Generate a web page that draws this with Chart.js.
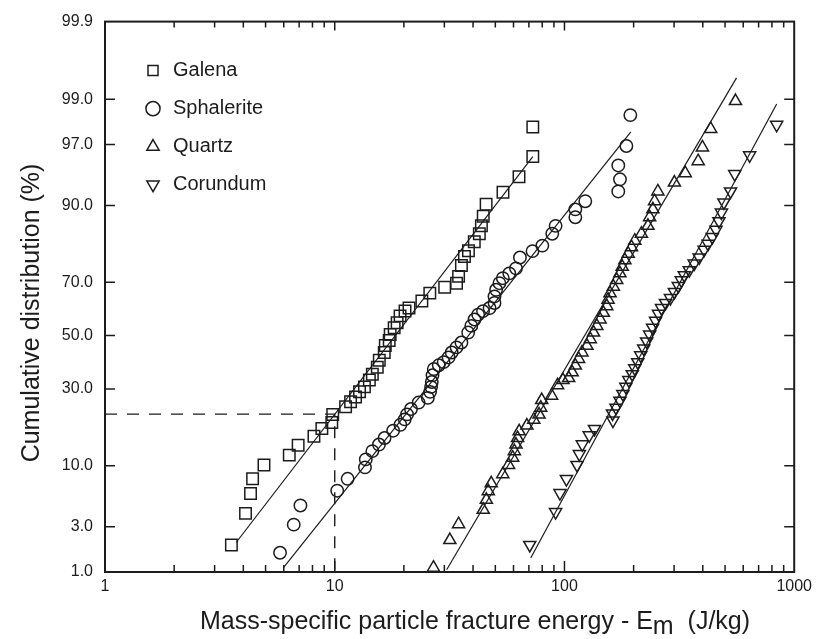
<!DOCTYPE html>
<html>
<head>
<meta charset="utf-8">
<script src="https://cdn.jsdelivr.net/npm/chart.js@4.4.1/dist/chart.umd.min.js"></script>
<style>
  html, body { margin: 0; padding: 0; background: #fff; }
</style>
</head>
<body>
<canvas id="myChart" width="817" height="639"></canvas>
<script>
// data: energy in J/kg, cumulative distribution in %
const galenaEnergy = [3.55, 4.09, 4.30, 4.39, 4.92, 6.34, 6.93, 8.12, 8.79, 9.71, 9.80, 11.15, 11.72, 12.32, 12.82, 13.47, 14.15, 14.58, 15.32, 15.63, 16.43, 16.6, 17.26, 17.43, 18.14, 18.69, 19.25, 20.23, 21.05, 23.95, 25.93, 30.1, 33.9, 34.6, 35.6, 36.7, 38.2, 40.5, 42.6, 43.5, 44.3, 45.6, 54.0, 63.4, 72.8, 72.8];
const galenaPct = [1.97, 4.01, 6.0, 7.94, 10.15, 11.98, 14.03, 16.08, 18.05, 19.6, 21.85, 24.2, 25.75, 27.3, 29.0, 30.7, 33.1, 35.2, 37.8, 40.4, 43.4, 46.1, 48.1, 50.4, 53.1, 55.0, 57.7, 59.6, 60.7, 63.3, 66.2, 68.3, 69.7, 72.0, 75.5, 78.2, 79.8, 82.2, 84.2, 86.0, 88.0, 90.2, 92.1, 94.1, 96.1, 98.0];

const sphaleriteEnergy = [5.78, 6.63, 7.09, 10.25, 11.38, 13.54, 13.65, 14.58, 15.58, 16.48, 17.96, 19.31, 20.17, 20.64, 21.47, 23.18, 25.42, 26.01, 26.27, 26.45, 26.64, 26.98, 28.36, 29.8, 31.3, 32.3, 33.9, 35.6, 38.1, 39.3, 40.6, 42.1, 44.2, 47.2, 49.6, 49.6, 50.4, 52.1, 53.9, 57.5, 61.5, 64.0, 72.6, 80.1, 88.5, 91.5, 111.5, 111.5, 123.2, 171.5, 174.4, 171.5, 186, 193.5];
const sphaleritePct = [1.63, 3.14, 4.73, 6.35, 7.94, 9.73, 11.16, 12.78, 14.19, 15.68, 17.47, 19.0, 20.5, 21.9, 23.5, 25.5, 27.0, 29.0, 30.7, 32.4, 34.8, 37.1, 38.5, 39.7, 41.5, 43.4, 45.4, 47.3, 51.2, 53.8, 56.3, 58.2, 59.5, 60.7, 62.6, 65.0, 67.4, 69.7, 71.4, 73.0, 74.6, 77.9, 79.7, 81.2, 84.2, 86.0, 87.8, 89.3, 90.7, 92.2, 93.8, 95.3, 96.9, 98.5];

const quartzEnergy = [26.9, 31.7, 34.6, 44.3, 45.7, 46.6, 48.0, 53.9, 57.1, 59.5, 60.5, 61.5, 62.5, 63.5, 68.6, 73.5, 77.5, 78.8, 79.6, 87.9, 93.3, 98.5, 104.3, 108.0, 111.5, 115.2, 119.2, 125.3, 129.5, 133.8, 138.3, 142.9, 147.7, 152.8, 154.8, 157.9, 163.2, 168.8, 174.4, 178.4, 183.2, 189.3, 195.8, 202.3, 216.2, 230.9, 234.8, 242.6, 246.7, 255.0, 300.9, 335.6, 381.9, 398.5, 433, 555];
const quartzPct = [1.12, 2.21, 3.17, 4.32, 5.30, 6.29, 7.31, 8.64, 10.15, 11.47, 12.78, 14.19, 15.68, 17.3, 18.8, 20.4, 21.85, 23.9, 26.3, 27.7, 31.3, 33.1, 33.8, 35.9, 38.4, 40.9, 43.4, 46.0, 48.6, 51.2, 53.8, 56.3, 58.9, 61.4, 63.8, 66.2, 68.5, 70.8, 73.0, 75.1, 77.1, 79.0, 80.8, 82.5, 84.2, 86.0, 87.8, 89.3, 90.7, 92.2, 93.4, 94.5, 95.7, 96.8, 97.9, 98.95];

const corundumEnergy = [70.6, 91.5, 95.6, 102.0, 113.4, 116.1, 119.6, 128.2, 135.1, 162.6, 161.9, 167.6, 174.4, 179.6, 185.1, 190.6, 197.3, 202.3, 208.4, 214.7, 221.2, 227.9, 234.8, 241.9, 249.2, 256.7, 264.5, 275.3, 289.3, 300.9, 313.1, 322.6, 332.4, 349.3, 367.1, 385.7, 405.3, 421.7, 440.2, 456.6, 470.4, 482.2, 494.3, 528.3, 551.2, 639.7, 838.9];
const corundumPct = [1.97, 4.12, 6.06, 7.90, 10.15, 12.18, 14.25, 16.31, 17.93, 20.16, 22.2, 23.9, 26.1, 28.3, 30.7, 33.1, 35.2, 37.4, 39.7, 42.3, 45.0, 47.7, 50.4, 53.1, 55.8, 58.5, 60.7, 62.6, 64.4, 66.6, 68.7, 70.7, 72.4, 74.0, 76.1, 77.9, 80.1, 81.7, 83.4, 85.1, 87.0, 88.7, 90.5, 92.2, 94.4, 96.2, 98.1];

// fitted log-normal lines (end points)
const galenaFitEnergy = [3.73, 72.8];
const galenaFitPct = [2.1, 96.1];
const sphaleriteFitEnergy = [5.97, 194.5];
const sphaleriteFitPct = [1.11, 97.75];
const quartzFitEnergy = [30.7, 561];
const quartzFitPct = [1.06, 99.44];
const corundumFitEnergy = [71.3, 839];
const corundumFitPct = [1.43, 98.87];

// dashed guide at 10 J/kg
const guideEnergy = [1, 10, 10];
const guidePct = [22, 22, 1];

// axes
const xTickValues = [1, 10, 100, 1000];
const yTickPct = [1, 3, 10, 30, 50, 70, 90, 97, 99, 99.9];
const yTickLabels = ["1.0", "3.0", "10.0", "30.0", "50.0", "70.0", "90.0", "97.0", "99.0", "99.9"];

const ink = "#1c1c1c";
const fontFamily = "'Liberation Sans', Arial, Helvetica, sans-serif";
Chart.defaults.font.family = fontFamily;
Chart.defaults.color = ink;

// inverse normal cdf (Acklam), gives the probability-paper coordinate
function probit(p) {
  const a = [-39.69683028665376, 220.9460984245205, -275.9285104469687, 138.357751867269, -30.66479806614716, 2.506628277459239];
  const b = [-54.47609879822406, 161.5858368580409, -155.6989798598866, 66.80131188771972, -13.28068155288572];
  const c = [-0.007784894002430293, -0.3223964580411365, -2.400758277161838, -2.549732539343734, 4.374664141464968, 2.938163982698783];
  const d = [0.007784695709041462, 0.3224671290700398, 2.445134137142996, 3.754408661907416];
  const plow = 0.02425;
  if (p < plow) {
    const q = Math.sqrt(-2 * Math.log(p));
    return (((((c[0] * q + c[1]) * q + c[2]) * q + c[3]) * q + c[4]) * q + c[5]) / ((((d[0] * q + d[1]) * q + d[2]) * q + d[3]) * q + 1);
  }
  if (p > 1 - plow) {
    const q = Math.sqrt(-2 * Math.log(1 - p));
    return -(((((c[0] * q + c[1]) * q + c[2]) * q + c[3]) * q + c[4]) * q + c[5]) / ((((d[0] * q + d[1]) * q + d[2]) * q + d[3]) * q + 1);
  }
  const q = p - 0.5;
  const r = q * q;
  return (((((a[0] * r + a[1]) * r + a[2]) * r + a[3]) * r + a[4]) * r + a[5]) * q / (((((b[0] * r + b[1]) * r + b[2]) * r + b[3]) * r + b[4]) * r + 1);
}

const toPoints = (xs, ps) => xs.map((v, i) => ({ x: v, y: probit(ps[i] / 100) }));

const markerSet = (label, xs, ps, style, radius, rotation) => ({
  label: label,
  data: toPoints(xs, ps),
  pointStyle: style,
  pointRadius: radius,
  pointRotation: rotation,
  pointBorderColor: ink,
  pointBackgroundColor: "rgba(255,255,255,0)",
  pointBorderWidth: 1.5,
  showLine: false,
  clip: false,
});

const lineSet = (xs, ps, dash) => ({
  label: "",
  data: toPoints(xs, ps),
  showLine: true,
  pointRadius: 0,
  borderColor: ink,
  borderWidth: dash ? 1.4 : 1.2,
  borderDash: dash || [],
  fill: false,
});

// inward tick marks and the box round the plot
const xMarks = [];
for (let dec = 1; dec < 1000; dec *= 10) {
  for (let k = 1; k <= 9; k++) {
    if (dec * k > 1) xMarks.push(dec * k);
  }
}

const frameTicks = {
  id: "frameTicks",
  afterDatasetsDraw(chart) {
    const { ctx, chartArea: a, scales } = chart;
    ctx.save();
    ctx.strokeStyle = ink;
    ctx.lineWidth = 1.5;
    ctx.beginPath();
    xMarks.forEach((v) => {
      const px = scales.x.getPixelForValue(v);
      const major = xTickValues.includes(v);
      ctx.moveTo(px, a.bottom);
      ctx.lineTo(px, a.bottom - (major ? 11 : 7));
      ctx.moveTo(px, a.top);
      ctx.lineTo(px, a.top + (major ? 9 : 6));
    });
    yTickPct.slice(1, -1).forEach((p) => {
      const py = scales.y.getPixelForValue(probit(p / 100));
      ctx.moveTo(a.left, py);
      ctx.lineTo(a.left + 10, py);
      ctx.moveTo(a.right, py);
      ctx.lineTo(a.right - 10, py);
    });
    ctx.stroke();
    ctx.lineWidth = 2;
    ctx.strokeRect(a.left, a.top, a.right - a.left, a.bottom - a.top);
    ctx.restore();
  },
};

// axis titles (x title has a subscript m)
const axisTitles = {
  id: "axisTitles",
  afterDraw(chart) {
    const { ctx } = chart;
    ctx.save();
    ctx.fillStyle = ink;
    ctx.font = "25px " + fontFamily;
    ctx.textBaseline = "alphabetic";

    ctx.save();
    ctx.translate(39, 313);
    ctx.rotate(-Math.PI / 2);
    ctx.textAlign = "center";
    ctx.fillText("Cumulative distribution (%)", 0, 0);
    ctx.restore();

    const t1 = "Mass-specific particle fracture energy - E";
    const t2 = "m";
    const t3 = "  (J/kg)";
    const w1 = ctx.measureText(t1).width;
    const w2 = ctx.measureText(t2).width;
    const w3 = ctx.measureText(t3).width;
    let x0 = 475 - (w1 + w2 + w3) / 2;
    ctx.textAlign = "left";
    ctx.fillText(t1, x0, 629);
    ctx.fillText(t2, x0 + w1, 634);
    ctx.fillText(t3, x0 + w1 + w2, 629);
    ctx.restore();
  },
};

// put the legend inside the plot, top left
const legendSpot = {
  id: "legendSpot",
  afterLayout(chart) {
    const lg = chart.legend;
    const a = chart.chartArea;
    const w = lg.width;
    const h = lg.height;
    lg.left = a.left + 20;
    lg.top = a.top + 21;
    lg.right = lg.left + w;
    lg.bottom = lg.top + h;
  },
};

const ctx = document.getElementById("myChart");

new Chart(ctx, {
  type: "scatter",
  data: {
    datasets: [
      markerSet("Galena", galenaEnergy, galenaPct, "rect", 8.1, 0),
      markerSet("Sphalerite", sphaleriteEnergy, sphaleritePct, "circle", 6.2, 0),
      markerSet("Quartz", quartzEnergy, quartzPct, "triangle", 7, 0),
      markerSet("Corundum", corundumEnergy, corundumPct, "triangle", 7, 180),
      lineSet(galenaFitEnergy, galenaFitPct),
      lineSet(sphaleriteFitEnergy, sphaleriteFitPct),
      lineSet(quartzFitEnergy, quartzFitPct),
      lineSet(corundumFitEnergy, corundumFitPct),
      lineSet(guideEnergy, guidePct, [12, 10]),
    ],
  },
  options: {
    responsive: false,
    animation: false,
    layout: { padding: { left: 0, top: 14, right: 20, bottom: 0 } },
    plugins: {
      tooltip: { enabled: false },
      legend: {
        position: "chartArea",
        align: "start",
        labels: {
          usePointStyle: true,
          boxWidth: 20,
          boxHeight: 10,
          padding: 18,
          color: ink,
          font: { size: 20 },
          filter: (item) => item.datasetIndex < 4,
        },
      },
    },
    scales: {
      x: {
        type: "logarithmic",
        min: 1,
        max: 1000,
        grid: { display: false, drawTicks: false },
        border: { display: false },
        afterBuildTicks: (scale) => {
          scale.ticks = xTickValues.map((v) => ({ value: v, major: true }));
        },
        afterFit: (scale) => {
          scale.height = 67;
        },
        ticks: {
          padding: 5,
          autoSkip: false,
          maxRotation: 0,
          font: { size: 16 },
          callback: (v) => String(v),
        },
      },
      y: {
        type: "linear",
        min: probit(0.01),
        max: probit(0.999),
        grid: { display: false, drawTicks: false },
        border: { display: false },
        afterBuildTicks: (scale) => {
          scale.ticks = yTickPct.map((p) => ({ value: probit(p / 100) }));
        },
        afterFit: (scale) => {
          scale.width = 105;
        },
        ticks: {
          padding: 12,
          autoSkip: false,
          font: { size: 16 },
          callback: (v, i) => yTickLabels[i],
        },
      },
    },
  },
  plugins: [frameTicks, axisTitles, legendSpot],
});
</script>
</body>
</html>
